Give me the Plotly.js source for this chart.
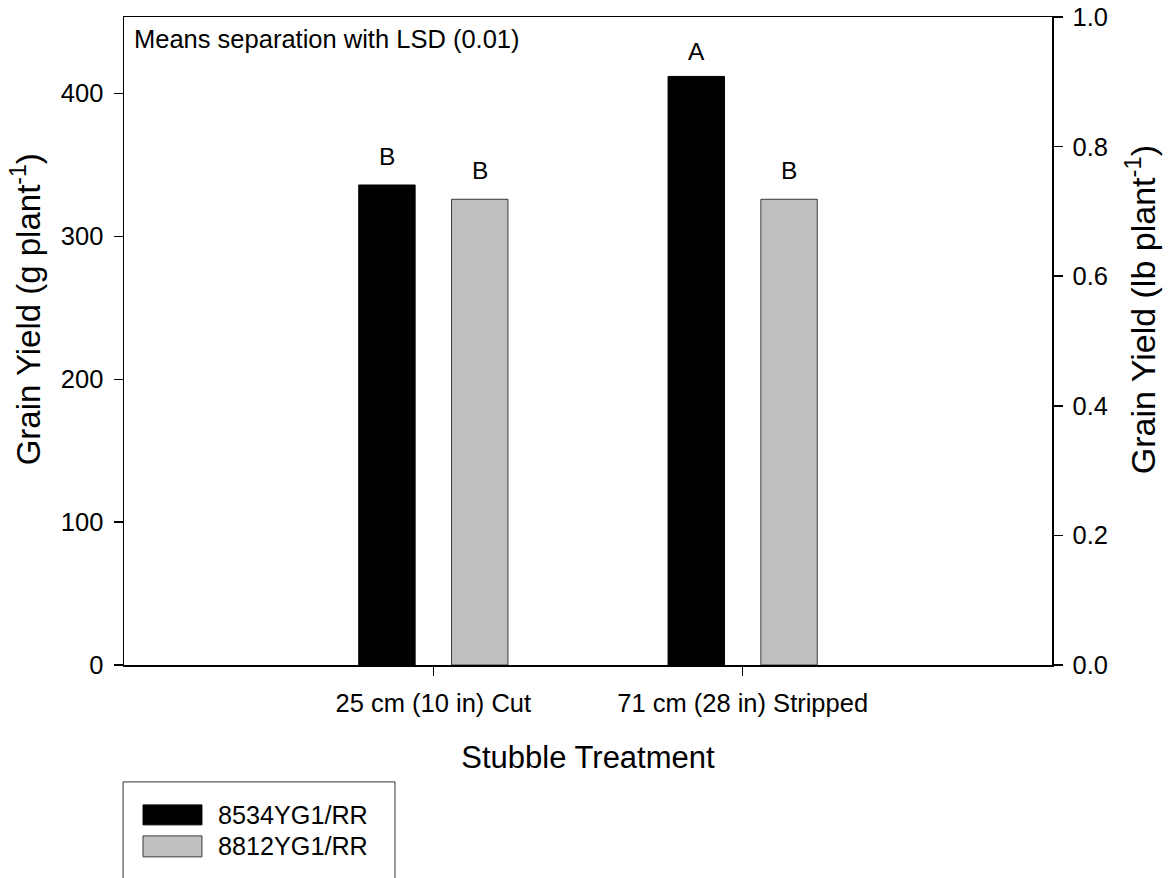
<!DOCTYPE html>
<html>
<head>
<meta charset="utf-8">
<script src="https://cdn.plot.ly/plotly-3.0.1.min.js"></script>
<style>html,body{margin:0;padding:0;background:#fff;}#chart{width:1169px;height:878px;}</style>
</head>
<body>
<div id="chart"></div>
<script>
// ---- data ----
const categories = ["25 cm (10 in) Cut", "71 cm (28 in) Stripped"];
const seriesNames = ["8534YG1/RR", "8812YG1/RR"];
const yield8534 = [336, 412];      // g plant-1
const yield8812 = [326, 326];      // g plant-1
const letters8534 = ["B", "A"];
const letters8812 = ["B", "B"];
const leftTicks = [0, 100, 200, 300, 400];
const rightTicks = [0.0, 0.2, 0.4, 0.6, 0.8, 1.0];
const annotationText = "Means separation with LSD (0.01)";
const xTitle = "Stubble Treatment";
const yTitleLeft = "Grain Yield (g plant<sup>-1</sup>)";
const yTitleRight = "Grain Yield (lb plant<sup>-1</sup>)";
const G_PER_LB = 453.592;

const FONT = "Liberation Sans, Arial, Helvetica, sans-serif";
const colors = ["#000000", "#c0c0c0"];
const outlines = ["#000000", "#3a3a3a"];

const traces = [
  {type: "bar", name: seriesNames[0], x: [0, 1], y: yield8534,
   marker: {color: colors[0], line: {color: outlines[0], width: 1}}, showlegend: false, hoverinfo: "y"},
  {type: "bar", name: seriesNames[1], x: [0, 1], y: yield8812,
   marker: {color: colors[1], line: {color: outlines[1], width: 1}}, showlegend: false, hoverinfo: "y"},
  // invisible trace to activate the right axis
  {type: "scatter", x: [0], y: [0], yaxis: "y2", mode: "markers", marker: {opacity: 0}, showlegend: false, hoverinfo: "skip"}
];

const bargap = 0.4;
const slotHalf = (1 - bargap) / 4; // offset of each bar center from category center

const annotations = [];
[[yield8534, letters8534, -slotHalf], [yield8812, letters8812, slotHalf]].forEach(([vals, labs, off]) => {
  vals.forEach((v, i) => {
    annotations.push({x: i + off, y: v, xref: "x", yref: "y", text: labs[i], showarrow: false,
      yanchor: "bottom", yshift: labs[i] === "A" ? 9 : 13, font: {family: FONT, size: 24.5, color: "#000"}});
  });
});
annotations.push({x: 0, y: 1, xref: "paper", yref: "paper", xanchor: "left", yanchor: "top",
  xshift: 8, yshift: -6, text: annotationText, showarrow: false, font: {family: FONT, size: 25.5, color: "#000"}});

// y-axis titles (placed as rotated annotations)
annotations.push({x: -0.1055, y: 0.549, xref: "paper", yref: "paper", xanchor: "center", yanchor: "middle",
  textangle: -90, text: yTitleLeft, showarrow: false, font: {family: FONT, size: 33, color: "#000"}});
annotations.push({x: 1.0948, y: 0.549, xref: "paper", yref: "paper", xanchor: "center", yanchor: "middle",
  textangle: -90, text: yTitleRight, showarrow: false, font: {family: FONT, size: 34, color: "#000"}});

// custom legend (large swatches like the original)
const shapes = [
  {type: "rect", xref: "paper", yref: "paper", x0: -0.001, x1: 0.292, y0: -0.1804, y1: -0.36,
   line: {color: "#333", width: 1}, fillcolor: "rgba(0,0,0,0)"}
];
const swY = [[-0.2159, -0.2467], [-0.2637, -0.2961]];
seriesNames.forEach((nm, k) => {
  shapes.push({type: "rect", xref: "paper", yref: "paper", x0: 0.0205, x1: 0.084, y0: swY[k][0], y1: swY[k][1],
    fillcolor: colors[k], line: {color: outlines[k], width: 1}});
  annotations.push({x: 0.0991, y: (swY[k][0] + swY[k][1]) / 2, xref: "paper", yref: "paper", xanchor: "left",
    yanchor: "middle", text: nm, showarrow: false, font: {family: FONT, size: 25.2, color: "#000"}});
});

const layout = {
  width: 1169, height: 878,
  margin: {l: 124, r: 117, t: 16.5, b: 213, pad: 0},
  paper_bgcolor: "#fff", plot_bgcolor: "#fff",
  font: {family: FONT, size: 25, color: "#000"},
  barmode: "group", bargap: bargap, bargroupgap: 0.392,
  showlegend: false,
  xaxis: {
    range: [-1, 2], tickmode: "array", tickvals: [0, 1], ticktext: categories,
    showgrid: false, zeroline: false, showline: true, mirror: true, linecolor: "#000", linewidth: 1.5,
    ticks: "outside", ticklen: 9, tickcolor: "#000", tickwidth: 1.5, ticklabelstandoff: 6,
    tickfont: {family: FONT, size: 25.5}, fixedrange: true,
    title: {text: xTitle, font: {family: FONT, size: 31}, standoff: 30}
  },
  yaxis: {
    range: [0, G_PER_LB], tickvals: leftTicks, ticktext: leftTicks.map(String),
    showgrid: false, zeroline: false, showline: true, linecolor: "#000", linewidth: 1.5,
    ticks: "outside", ticklen: 9, tickcolor: "#000", tickwidth: 1.5, ticklabelstandoff: 5,
    tickfont: {family: FONT, size: 25.5}
  },
  yaxis2: {
    overlaying: "y", side: "right", range: [0, 1], tickvals: rightTicks, ticktext: rightTicks.map(v => v.toFixed(1)),
    showgrid: false, zeroline: false, showline: true, linecolor: "#000", linewidth: 1.5,
    ticks: "outside", ticklen: 9, tickcolor: "#000", tickwidth: 1.5, ticklabelstandoff: 5,
    tickfont: {family: FONT, size: 25.5}
  },
  annotations: annotations,
  shapes: shapes
};

Plotly.newPlot("chart", traces, layout, {displayModeBar: false, staticPlot: true});
</script>
</body>
</html>
